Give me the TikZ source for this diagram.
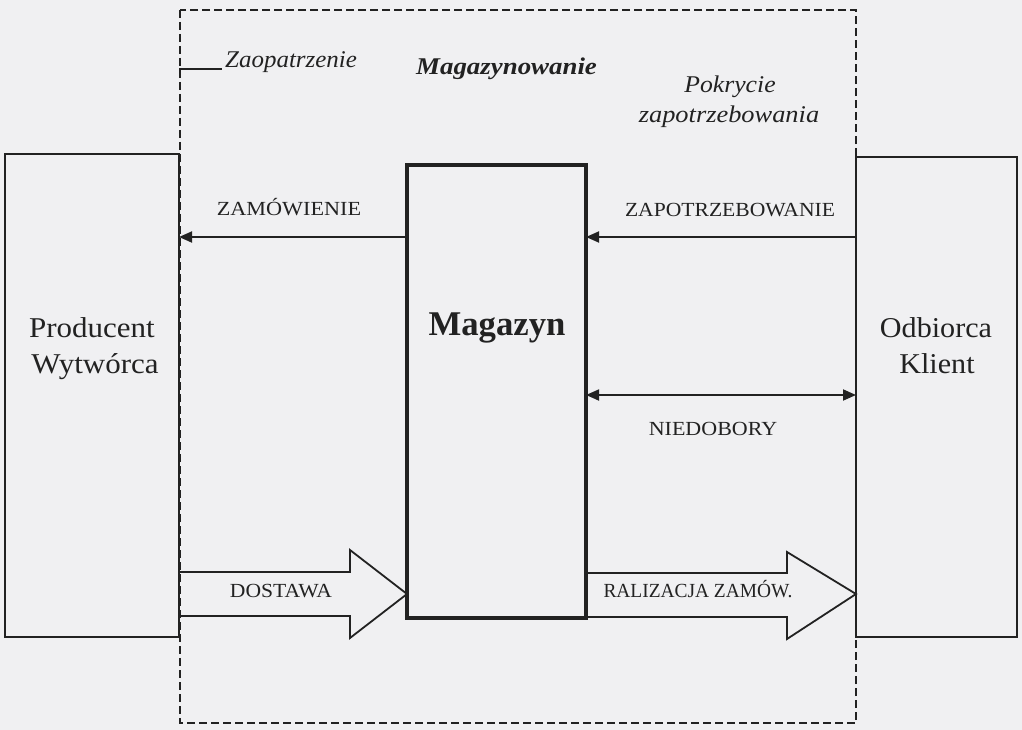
\documentclass[tikz,border=0pt]{standalone}
\usepackage{fontspec}
\setmainfont{Liberation Serif}
\usetikzlibrary{arrows.meta,calc}
\definecolor{bg}{RGB}{240,240,242}
\definecolor{ink}{RGB}{34,34,34}
\newcommand{\hsx}[2]{\scalebox{#1}[1]{#2}}
\tikzset{
  box/.style={draw=ink, line width=1.6pt, anchor=north west, inner sep=0pt, outer sep=0pt},
  magbox/.style={box, line width=4pt},
  lbl/.style={text=ink, inner sep=0pt, anchor=base},
  caps/.style={lbl, font=\fontsize{20pt}{22pt}\selectfont},
  big/.style={lbl, font=\fontsize{28.7pt}{34pt}\selectfont},
  ital/.style={lbl, font=\fontsize{24pt}{28pt}\selectfont\itshape},
  flow/.style={draw=ink, line width=1.8pt},
  tip/.style={-{Triangle[length=13pt,width=11pt]}},
  blockarrow/.style={draw=ink, line width=1.8pt, line join=miter},
  zone/.style={draw=ink, line width=2pt, dash pattern=on 8pt off 4pt}
}
\begin{document}
\begin{tikzpicture}[x=1pt,y=-1pt]
\fill[bg] (0,0) rectangle (1022,730);
\useasboundingbox (0,0) rectangle (1022,730);

% zone (dashed frame)
\draw[zone] (180,10) rectangle (856,723);

% boxes
\node[box, minimum width=174pt, minimum height=483pt] (prod) at (5,154) {};
\node[magbox, minimum width=179pt, minimum height=453pt] (mag) at (407,165) {};
\node[box, minimum width=161pt, minimum height=480pt] (odb) at (856,157) {};

% box texts
\node[big] (prodt1) at (92,337) {\hsx{1.08}{Producent}};
\node[big] (prodt2) at (95,373) {\hsx{1.08}{Wytwórca}};
\node[lbl, font=\fontsize{34.7pt}{40pt}\selectfont\bfseries] (magt) at (497,335) {Magazyn};
\node[big] (odbt1) at (936,337) {\hsx{1.05}{Odbiorca}};
\node[big] (odbt2) at (937,373) {\hsx{1.05}{Klient}};

% headings
\coordinate (zl) at (222,69);
\draw[flow, line width=1.5pt] (prod.east |- zl) -- (zl);
\node[ital, anchor=base west] (zaop) at (225,68) {\hsx{1.04}{Zaopatrzenie}};
\node[ital, anchor=base west, font=\fontsize{24pt}{28pt}\selectfont\bfseries\itshape] (magn) at (416,75) {\hsx{1.12}{Magazynowanie}};
\node[ital] (pok1) at (730,93) {\hsx{1.07}{Pokrycie}};
\node[ital] (pok2) at (729,123) {\hsx{1.10}{zapotrzebowania}};

% thin arrows
\coordinate (y1) at (0,237);
\coordinate (y2) at (0,395);
\draw[flow, tip] (mag.west |- y1) -- (prod.east |- y1);
\draw[flow, tip] (odb.west |- y1) -- (mag.east |- y1);
\draw[flow, {Triangle[length=13pt,width=11pt]}-{Triangle[length=13pt,width=11pt]}] (mag.east |- y2) -- (odb.west |- y2);
\node[caps] (zam) at (289,215) {\hsx{1.11}{ZAMÓWIENIE}};
\node[caps] (zap) at (730,216) {\hsx{1.08}{ZAPOTRZEBOWANIE}};
\node[caps] (nied) at (713,435) {\hsx{1.10}{NIEDOBORY}};

% block arrows
\draw[blockarrow] (prod.east |- 0,572) -- (350,572) -- (350,550) -- (mag.west |- 0,594) -- (350,638) -- (350,616) -- (prod.east |- 0,616);
\draw[blockarrow] (mag.east |- 0,573) -- (787,573) -- (787,552) -- (odb.west |- 0,594) -- (787,639) -- (787,617) -- (mag.east |- 0,617);
\node[caps] (dost) at (281,597) {\hsx{1.08}{DOSTAWA}};
\node[caps] (real) at (698,597) {\hsx{0.97}{RALIZACJA ZAMÓW.}};
\end{tikzpicture}
\end{document}
